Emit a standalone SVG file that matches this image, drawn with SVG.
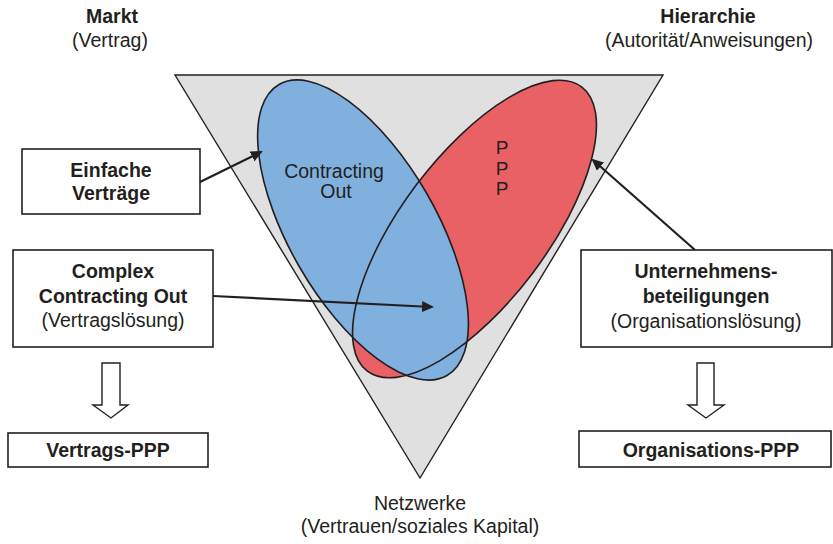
<svg xmlns="http://www.w3.org/2000/svg" width="833" height="544" viewBox="0 0 833 544">
<style>
text{font-family:"Liberation Sans",Arial,sans-serif;font-size:19.5px;fill:#231f20;text-anchor:middle}
.b{font-weight:bold}
.p{font-size:19px}
.box{fill:#fff;stroke:#231f20;stroke-width:1.6}
.ol{fill:none;stroke:#231f20;stroke-width:1.6}
.con{stroke:#231f20;stroke-width:2.2;fill:none;marker-end:url(#ah)}
.hollow{fill:#fff;stroke:#231f20;stroke-width:1.4}
</style>
<defs>
<marker id="ah" markerWidth="12" markerHeight="11" refX="10" refY="5.5" orient="auto" markerUnits="userSpaceOnUse" viewBox="0 0 12 11">
<path d="M0,0 L12,5.5 L0,11 Z" fill="#231f20"/>
</marker>
</defs>
<g id="triangle">
<polygon points="175,75 663,75 420,478" fill="#e0e0e0" stroke="#231f20" stroke-width="1.4"/>
</g>
<g id="ellipses">
<ellipse cx="474.5" cy="229" rx="178" ry="73" transform="rotate(-53 474.5 229)" fill="#e96065"/>
<ellipse cx="363" cy="230" rx="168" ry="73.5" transform="rotate(60 363 230)" fill="#80b0de"/>
<ellipse cx="474.5" cy="229" rx="178" ry="73" transform="rotate(-53 474.5 229)" class="ol"/>
<ellipse cx="363" cy="230" rx="168" ry="73.5" transform="rotate(60 363 230)" class="ol"/>
<text x="334" y="178">Contracting</text>
<text x="336" y="198">Out</text>
<text class="p"><tspan x="502" y="154">P</tspan><tspan x="502" y="174.5">P</tspan><tspan x="502" y="195">P</tspan></text>
</g>
<g id="markt">
<text x="112" y="23" class="b">Markt</text>
<text x="110" y="47">(Vertrag)</text>
</g>
<g id="hierarchie">
<text x="708" y="23" class="b">Hierarchie</text>
<text x="709" y="47">(Autorität/Anweisungen)</text>
</g>
<g id="netzwerke">
<text x="420" y="510">Netzwerke</text>
<text x="420" y="533">(Vertrauen/soziales Kapital)</text>
</g>
<g id="einfache">
<rect x="22" y="149" width="178" height="65" class="box"/>
<text x="111" y="177" class="b">Einfache</text>
<text x="111" y="200" class="b">Verträge</text>
</g>
<g id="complex">
<rect x="13" y="250" width="200" height="97" class="box"/>
<text x="113" y="278" class="b">Complex</text>
<text x="113" y="303" class="b">Contracting Out</text>
<text x="113" y="327">(Vertragslösung)</text>
</g>
<g id="unternehmens">
<rect x="581" y="250" width="251" height="97" class="box"/>
<text x="706" y="278" class="b">Unternehmens-</text>
<text x="706" y="303" class="b">beteiligungen</text>
<text x="706" y="328">(Organisationslösung)</text>
</g>
<g id="vertrags-ppp">
<rect x="8" y="433" width="200" height="34" class="box"/>
<text x="108" y="457" class="b">Vertrags-PPP</text>
</g>
<g id="organisations-ppp">
<rect x="579" y="431" width="252" height="36" class="box"/>
<text x="711" y="457" class="b">Organisations-PPP</text>
</g>
<g id="connectors">
<line x1="200" y1="182" x2="261" y2="152" class="con"/>
<line x1="213" y1="296" x2="432" y2="307" class="con"/>
<line x1="695" y1="250" x2="593" y2="160" class="con"/>
<polygon points="102,363 120,363 120,405 128,405 111,418 93,405 102,405" class="hollow"/>
<polygon points="697,363 714,363 714,405 724,405 706,418 688,405 697,405" class="hollow"/>
</g>
</svg>
